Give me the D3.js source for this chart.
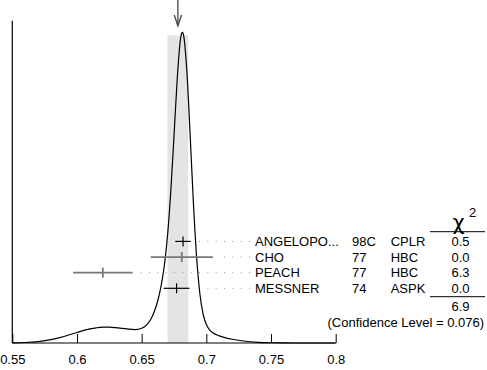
<!DOCTYPE html>
<html>
<head>
<meta charset="utf-8">
<script src="https://cdn.jsdelivr.net/npm/d3@7/dist/d3.min.js"></script>
<style>
  html, body { margin: 0; padding: 0; background: #fff; }
  svg { display: block; font-family: "Liberation Sans", Arial, Helvetica, sans-serif; }
</style>
</head>
<body>
<svg id="chart" width="487" height="370"></svg>
<script>
// ---- data ----
const xTicks = [0.55, 0.6, 0.65, 0.7, 0.75, 0.8];
const names = ["ANGELOPO...", "CHO", "PEACH", "MESSNER"];
const years = ["98C", "77", "77", "74"];
const techs = ["CPLR", "HBC", "HBC", "ASPK"];
const values = [0.682, 0.681, 0.620, 0.677];
const errors = [0.006, 0.024, 0.023, 0.010];
const chi2 = ["0.5", "0.0", "6.3", "0.0"];
const chi2Total = "6.9";
const confidenceLevel = "0.076";
const average = 0.678;
const averageError = 0.008;
// ideogram curve (arbitrary units)
const ideoX = [0.55,0.56,0.57,0.58,0.59,0.60,0.61,0.615,0.62,0.625,0.63,0.635,0.64,0.645,0.65,0.6525,0.655,0.6575,0.66,0.6625,0.665,0.6675,0.67,0.6725,0.675,0.6775,0.68,0.681,0.6815,0.682,0.6825,0.685,0.6875,0.69,0.6925,0.695,0.6975,0.70,0.7025,0.705,0.71,0.715,0.72,0.73,0.74,0.75,0.76,0.77,0.78,0.79,0.80];
const ideoY = [18,63,178,417,809,1301,1741,1885,1959,1960,1901,1806,1709,1670,1822,2052,2450,3076,3991,5269,7038,9572,13327,18738,25657,32756,37634,38418,38508,38388,38058,33522,25711,17352,10578,6110,3587,2292,1633,1271,880,644,465,216,85,28,8,2,0.4,0,0];

// ---- layout ----
const svg = d3.select("#chart");
const x0 = 12.3, x1 = 335.7, yBase = 343, yTop = 32.3;
const x = d3.scaleLinear().domain([0.55, 0.8]).range([x0, x1]);
const yMax = d3.max(ideoY);
const y = d3.scaleLinear().domain([0, yMax]).range([yBase, yTop]);
const row = d3.scalePoint().domain(names).range([241.4, 288.3]);
const fs = 13;

// band of the average
svg.append("rect")
  .attr("x", x(average - averageError))
  .attr("width", x(average + averageError) - x(average - averageError))
  .attr("y", y(yMax * 0.99))
  .attr("height", yBase - y(yMax * 0.99))
  .attr("fill", "#e4e4e4");

// dotted leaders
names.forEach((n, i) => {
  const xe = x(values[i] + errors[i]);
  svg.append("line")
    .attr("x1", 250).attr("x2", Math.max(xe + 5, 0))
    .attr("y1", row(n)).attr("y2", row(n))
    .attr("stroke", "#999").attr("stroke-width", 1)
    .attr("stroke-dasharray", "1,7.33");
});

// ideogram curve
const pts = ideoX.map((v, i) => [v, ideoY[i]]);
svg.append("path")
  .datum(pts)
  .attr("fill", "none")
  .attr("stroke", "#000")
  .attr("stroke-width", 1.2)
  .attr("d", d3.line().x(d => x(d[0])).y(d => y(d[1])).curve(d3.curveMonotoneX));

// measurements
names.forEach((n, i) => {
  const big = errors[i] > 0.02;
  const col = big ? "#777" : "#000";
  const sw = big ? 1.8 : 1.2;
  const g = svg.append("g");
  g.append("line")
    .attr("x1", x(values[i] - errors[i])).attr("x2", x(values[i] + errors[i]))
    .attr("y1", row(n)).attr("y2", row(n))
    .attr("stroke", col).attr("stroke-width", sw);
  g.append("line")
    .attr("x1", x(values[i])).attr("x2", x(values[i]))
    .attr("y1", row(n) - 5).attr("y2", row(n) + 5)
    .attr("stroke", col).attr("stroke-width", sw);
});

// axes
svg.append("line").attr("x1", x0).attr("x2", x0).attr("y1", 20.7).attr("y2", yBase)
  .attr("stroke", "#000").attr("stroke-width", 1.2);
const xAxis = d3.axisBottom(x).tickValues(xTicks).tickSize(-9).tickPadding(11.5)
  .tickFormat(d => String(+d.toFixed(2)));
const ax = svg.append("g").attr("transform", `translate(0,${yBase})`).call(xAxis);
ax.select(".domain").attr("stroke", "#000").attr("stroke-width", 1.2).attr("d", `M${x0},0H${x1}`);
ax.selectAll(".tick line").attr("stroke", "#000").attr("stroke-width", 1);
ax.selectAll(".tick text").attr("font-size", fs).attr("font-family", "Liberation Sans, Arial, sans-serif").attr("fill", "#000");

// arrow at the average
const ax0 = x(average);
svg.append("line").attr("x1", ax0).attr("x2", ax0).attr("y1", 0).attr("y2", 24)
  .attr("stroke", "#444").attr("stroke-width", 1.3);
svg.append("path")
  .attr("d", `M${ax0 - 3.6},15 L${ax0},26 L${ax0 + 3.6},15`)
  .attr("fill", "none").attr("stroke", "#444").attr("stroke-width", 1.3);

// labels
const tg = svg.append("g").attr("font-size", fs).attr("fill", "#000");
names.forEach((n, i) => {
  const by = row(n) + 4.6;
  tg.append("text").attr("x", 255).attr("y", by).text(n);
  tg.append("text").attr("x", 352).attr("y", by).text(years[i]);
  tg.append("text").attr("x", 390.7).attr("y", by).text(techs[i]);
  tg.append("text").attr("x", 469.5).attr("y", by).attr("text-anchor", "end").text(chi2[i]);
});

// chi2 header
svg.append("text").attr("x", 458.5).attr("y", 229.5).attr("text-anchor", "middle")
  .attr("font-size", 21).attr("font-family", "DejaVu Sans, sans-serif").text("χ");
svg.append("text").attr("x", 469).attr("y", 216.5).attr("font-size", 13).text("2");
svg.append("line").attr("x1", 430).attr("x2", 485).attr("y1", 231.7).attr("y2", 231.7)
  .attr("stroke", "#000").attr("stroke-width", 1);
svg.append("line").attr("x1", 430).attr("x2", 485).attr("y1", 296.7).attr("y2", 296.7)
  .attr("stroke", "#000").attr("stroke-width", 1);
svg.append("text").attr("x", 469.5).attr("y", 310.5).attr("text-anchor", "end")
  .attr("font-size", fs).text(chi2Total);
svg.append("text").attr("x", 484).attr("y", 326.5).attr("text-anchor", "end")
  .attr("font-size", fs).text(`(Confidence Level = ${confidenceLevel})`);
</script>
</body>
</html>
